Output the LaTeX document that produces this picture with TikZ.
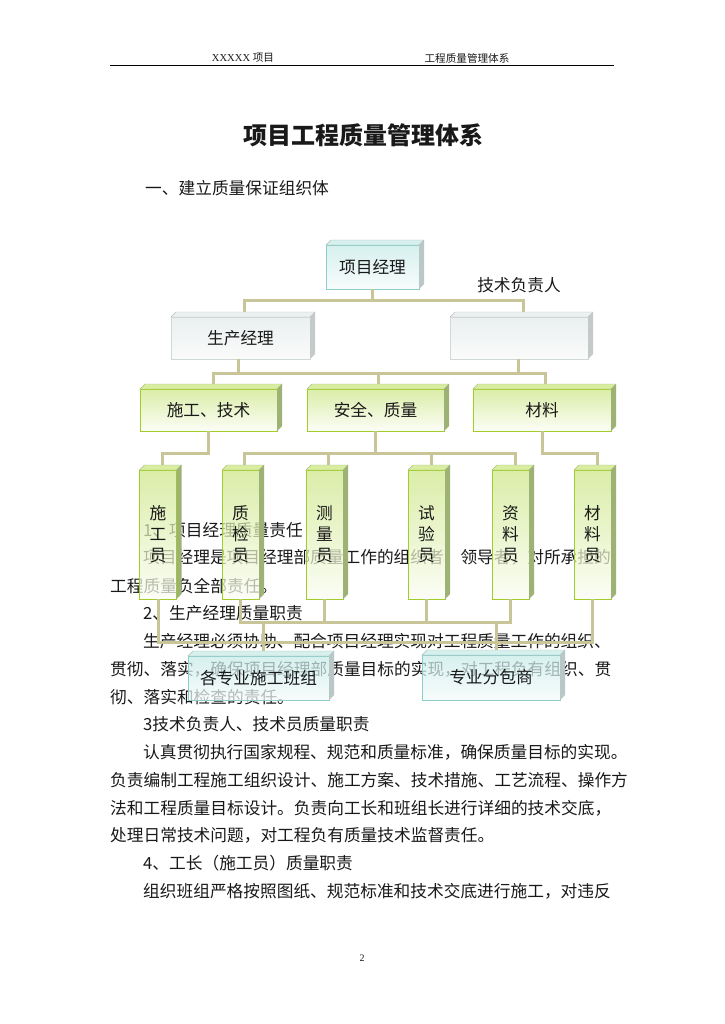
\documentclass[tikz,border=0pt]{standalone}
\usepackage{fontspec}
\newfontfamily\cjk{Noto Sans CJK SC}
\newfontfamily\latser{Liberation Serif}
\usetikzlibrary{calc}
\definecolor{tealB}{RGB}{140,205,200}
\definecolor{tealT}{RGB}{198,235,232}
\definecolor{tealW}{RGB}{246,252,251}
\definecolor{tealTop}{RGB}{214,240,237}
\definecolor{tealSide}{RGB}{185,200,199}
\definecolor{greyB}{RGB}{208,216,216}
\definecolor{greyT}{RGB}{228,234,234}
\definecolor{greyW}{RGB}{249,250,250}
\definecolor{greyTop}{RGB}{236,240,240}
\definecolor{greySide}{RGB}{196,201,201}
\definecolor{greenB}{RGB}{160,205,40}
\definecolor{greenT}{RGB}{205,231,135}
\definecolor{greenW}{RGB}{251,253,243}
\definecolor{greenTop}{RGB}{216,237,160}
\definecolor{greenSide}{RGB}{158,178,118}
\definecolor{connC}{RGB}{200,198,152}
\definecolor{ink}{RGB}{25,25,25}
\newcommand\boxfaces[3]{%
  \filldraw[fill=#2,draw=#2!80!black,line width=0.4pt] (#1.north west) -- ++(5,-5) -- ([shift={(5,-5)}]#1.north east) -- (#1.north east) -- cycle;
  \fill[#3] (#1.north east) -- ++(5,-5) -- ([shift={(5,-5)}]#1.south east) -- (#1.south east) -- cycle;
}
\begin{document}
\begin{tikzpicture}[x=1pt,y=-1pt,
  body/.style={anchor=west,inner sep=0pt,text=ink,font=\cjk\fontsize{16.7}{20}\selectfont},
  boxbase/.style={inner sep=0pt,outer sep=0pt,line width=1pt,fill opacity=0.72,text opacity=1,text=ink,
     align=center,font=\cjk\fontsize{16.7}{21}\selectfont},
  tealbox/.style={boxbase,draw=tealB,top color=tealT,bottom color=tealW},
  greybox/.style={boxbase,draw=greyB,top color=greyT,bottom color=greyW},
  greenbox/.style={boxbase,draw=greenB,top color=greenT,bottom color=greenW},
  conn/.style={draw=connC,line width=3pt},
  hdr/.style={inner sep=0pt,text=ink,font=\cjk\fontsize{10.6}{12}\selectfont}]
\useasboundingbox (0,0) rectangle (724,1024);
\fill[white] (0,0) rectangle (724,1024);

% header
\node[hdr] (h1) at (243,58) {{\latser XXXXX }项目};
\node[hdr] (h2) at (467,58) {工程质量管理体系};
\draw[line width=1pt,black] (110,65.5) -- (614,65.5);

% title
\node[inner sep=0pt,text=ink,font=\cjk\bfseries\fontsize{24}{28}\selectfont] (title) at (363,135) {项目工程质量管理体系};
\node[body] (sec1) at (145,188) {一、建立质量保证组织体};

% body text
\node[body] (t0) at (143,530.0) {1、项目经理质量责任};
\node[body] (t1) at (143,557.8) {项目经理是项目经理部质量工作的组织者、领导者，对所承担的};
\node[body] (t2) at (110,585.6) {工程质量负全部责任。};
\node[body] (t3) at (143,613.4) {2、生产经理质量职责};
\node[body] (t4) at (143,641.2) {生产经理必须协助、配合项目经理实现对工程质量工作的组织、};
\node[body] (t5) at (110,669.0) {贯彻、落实，确保项目经理部质量目标的实现，对工程负有组织、贯};
\node[body] (t6) at (110,696.8) {彻、落实和检查的责任。};
\node[body] (t7) at (143,724.6) {3技术负责人、技术员质量职责};
\node[body] (t8) at (143,752.4) {认真贯彻执行国家规程、规范和质量标准，确保质量目标的实现。};
\node[body] (t9) at (110,780.2) {负责编制工程施工组织设计、施工方案、技术措施、工艺流程、操作方};
\node[body] (t10) at (110,808.0) {法和工程质量目标设计。负责向工长和班组长进行详细的技术交底，};
\node[body] (t11) at (110,835.8) {处理日常技术问题，对工程负有质量技术监督责任。};
\node[body] (t12) at (143,863.6) {4、工长（施工员）质量职责};
\node[body] (t13) at (143,891.4) {组织班组严格按照图纸、规范标准和技术交底进行施工，对违反};

\node[inner sep=0pt,text=ink,font=\latser\fontsize{10}{12}\selectfont] (pg) at (362,958) {2};

% chart nodes
\node[tealbox,minimum width=93pt,minimum height=44pt] (pm) at (372.5,267) {项目经理};
\node[inner sep=0pt,text=ink,font=\cjk\fontsize{16.7}{20}\selectfont] (tl) at (519,285) {技术负责人};
\node[greybox,minimum width=139pt,minimum height=42pt] (sc) at (240.5,338) {生产经理};
\node[greybox,minimum width=138pt,minimum height=42pt] (tr) at (519,338) {};
\node[greenbox,minimum width=137pt,minimum height=42pt] (st) at (208.5,410) {施工、技术};
\node[greenbox,minimum width=137pt,minimum height=42pt] (aq) at (375.5,410) {安全、质量};
\node[greenbox,minimum width=138pt,minimum height=42pt] (ml) at (542,410) {材料};
\foreach \n/\x/\t in {r1/158/施\\工\\员, r2/240.5/质\\检\\员, r3/324.5/测\\量\\员,
                      r4/426.5/试\\验\\员, r5/510.5/资\\料\\员, r6/592.5/材\\料\\员}{
  \node[greenbox,minimum width=37pt,minimum height=129pt] (\n) at (\x,534.5) {\t};
}
\node[tealbox,minimum width=141pt,minimum height=44pt] (bA) at (258.5,678) {各专业施工班组};
\node[tealbox,minimum width=138pt,minimum height=45pt] (bB) at (491,677.5) {专业分包商};

% 3D faces
\boxfaces{pm}{tealTop}{tealSide}
\boxfaces{bA}{tealTop}{tealSide}
\boxfaces{bB}{tealTop}{tealSide}
\boxfaces{sc}{greyTop}{greySide}
\boxfaces{tr}{greyTop}{greySide}
\foreach \n in {st,aq,ml,r1,r2,r3,r4,r5,r6}{\boxfaces{\n}{greenTop}{greenSide}}

% top-face attachment points
\coordinate (sc-t) at ([shift={(3.5,-5)}]sc.north);
\coordinate (tr-t) at ([shift={(4,-5)}]tr.north);
\coordinate (st-t) at ([shift={(4.5,-5)}]st.north);
\coordinate (aq-t) at ([shift={(2.5,-5)}]aq.north);
\coordinate (ml-t) at ([shift={(3,-5)}]ml.north);
\coordinate (r1-t) at ([shift={(4,-5)}]r1.north);
\coordinate (r2-t) at ([shift={(4,-5)}]r2.north);
\coordinate (r3-t) at ([shift={(4,-5)}]r3.north);
\coordinate (r4-t) at ([shift={(5,-5)}]r4.north);
\coordinate (r5-t) at ([shift={(4.5,-5)}]r5.north);
\coordinate (r6-t) at ([shift={(5,-5)}]r6.north);
\coordinate (bA-t) at ([shift={(4.5,-5)}]bA.north);
\coordinate (bB-t) at ([shift={(5,-5)}]bB.north);
\coordinate (sc-b) at ([xshift=-2.5pt]sc.south);
\coordinate (tr-b) at ([xshift=-1pt]tr.south);

% buses
\coordinate (b0) at (0,300);
\coordinate (b1) at (0,373);
\coordinate (b2) at (0,453);
\coordinate (b3) at (0,622);
\coordinate (b4) at (0,642);

% connectors level 1
\draw[conn] (pm.south) -- (pm.south |- b0);
\draw[conn] (sc-t) -- (sc-t |- b0) -- (tr-t |- b0) -- (tr-t);
% level 2
\draw[conn] (sc-b) -- (sc-b |- b1);
\draw[conn] (tr-b) -- (tr-b |- b1);
\draw[conn] (st-t) -- (st-t |- b1) -- (ml-t |- b1) -- (ml-t);
\draw[conn] (aq-t) -- (aq-t |- b1);
% level 3
\draw[conn] (st.south) -- (st.south |- b2) -- (r1-t |- b2) -- (r1-t);
\draw[conn] (aq.south) -- (aq.south |- b2);
\draw[conn] (r2-t) -- (r2-t |- b2) -- (r5-t |- b2) -- (r5-t);
\draw[conn] (r3-t) -- (r3-t |- b2);
\draw[conn] (r4-t) -- (r4-t |- b2);
\draw[conn] (ml.south) -- (ml.south |- b2) -- (r6-t |- b2) -- (r6-t);
% level 4
\draw[conn] (r2.south) -- (r2.south |- b3) -- (r5.south |- b3) -- (r5.south);
\draw[conn] (r3.south) -- (r3.south |- b3);
\draw[conn] (r4.south) -- (r4.south |- b3);
\draw[conn] (r1.south) -- (r1.south |- b4) -- (r6.south |- b4) -- (r6.south);
\draw[conn] (bA-t) -- (bA-t |- b3);
\draw[conn] (bB-t) -- (bB-t |- b3);
\end{tikzpicture}
\end{document}
